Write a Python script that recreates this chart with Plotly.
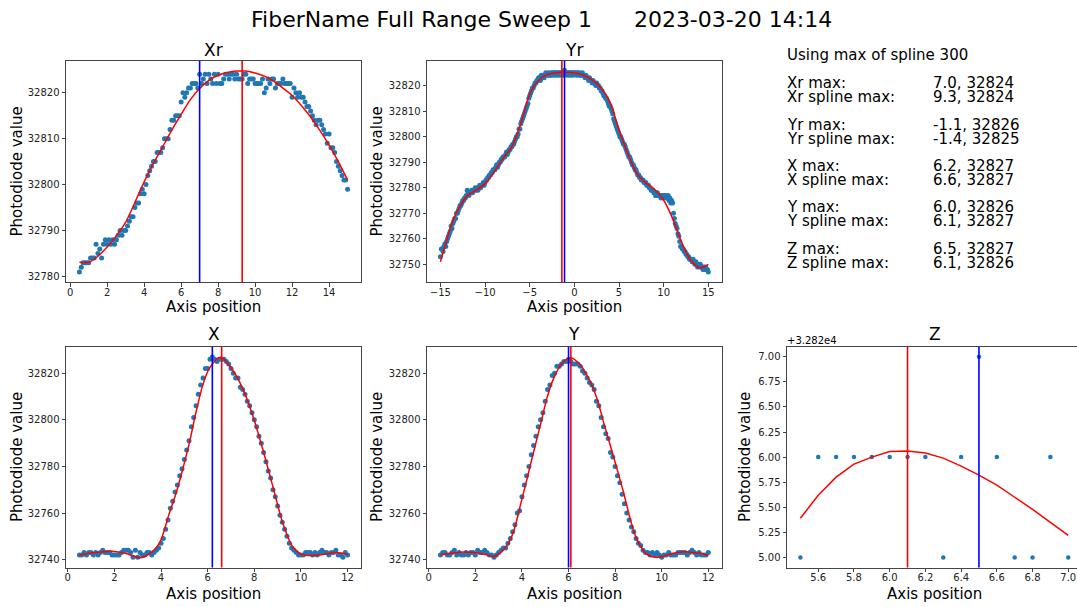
import numpy as np
import plotly.graph_objects as go

W, H = 1077, 607
FONT = "DejaVu Sans"

# ---------------- data ----------------
# Xr sweep (axis position 0.5 .. 15.0, step 0.1)
xr_pos = np.round(np.arange(0.5, 15.001, 0.1), 1)
xr_val = [32781, 32782, 32783, 32783, 32783, 32783, 32784, 32784, 32784, 32787,
          32785, 32786, 32784, 32787, 32788, 32787, 32788, 32787, 32788, 32787,
          32788, 32789, 32790, 32789, 32790, 32790, 32791, 32792, 32793, 32793,
          32795, 32796, 32796, 32798, 32799, 32798, 32800, 32802, 32803, 32804,
          32805, 32805, 32807, 32807, 32807, 32808, 32810, 32810, 32810, 32812,
          32814, 32814, 32815, 32815, 32815, 32818, 32820, 32819, 32820, 32821,
          32821, 32822, 32822, 32822, 32821, 32824, 32822, 32823, 32824, 32822,
          32824, 32823, 32822, 32824, 32822, 32824, 32822, 32822, 32823, 32824,
          32824, 32823, 32824, 32824, 32823, 32824, 32823, 32823, 32823, 32824,
          32824, 32822, 32823, 32823, 32823, 32822, 32822, 32822, 32822, 32823,
          32820, 32821, 32823, 32822, 32823, 32823, 32821, 32822, 32822, 32822,
          32823, 32822, 32822, 32822, 32822, 32819, 32821, 32820, 32819, 32820,
          32819, 32819, 32818, 32817, 32817, 32816, 32815, 32814, 32813, 32814,
          32814, 32813, 32812, 32811, 32809, 32811, 32808, 32808, 32807, 32805,
          32804, 32803, 32802, 32801, 32801, 32799]
xr_spl_x = [0.5, 1.0, 1.5, 2.0, 2.5, 3.0, 3.5, 4.0, 4.5, 5.0, 5.5, 6.0, 6.5, 7.0, 7.5,
            8.0, 8.5, 9.0, 9.5, 10.0, 10.5, 11.0, 11.5, 12.0, 12.5, 13.0, 13.5, 14.0, 14.5, 15.0]
xr_spl_y = [32783.1, 32783.1, 32784.4, 32786.4, 32788.9, 32791.8, 32796.1, 32800.6, 32804.6,
            32808.2, 32811.9, 32815.3, 32818.5, 32820.9, 32822.7, 32823.8, 32824.4, 32824.7,
            32824.7, 32824.3, 32823.6, 32822.5, 32821.0, 32819.4, 32817.2, 32814.7, 32811.8,
            32808.6, 32805.0, 32801.0]

# Yr sweep (axis position -15.0 .. 15.0, step 0.1)
yr_pos = np.round(np.arange(-15.0, 15.001, 0.1), 1)
yr_val = [32753, 32756, 32756, 32755, 32757, 32758, 32757, 32759, 32760, 32761, 32762,
          32763, 32765, 32764, 32766, 32767, 32768, 32768, 32770, 32770, 32771,
          32772, 32773, 32773, 32774, 32775, 32775, 32776, 32776, 32777, 32779,
          32778, 32777, 32778, 32778, 32779, 32778, 32779, 32779, 32780, 32779,
          32780, 32779, 32780, 32781, 32780, 32781, 32781, 32782, 32781, 32782,
          32783, 32783, 32784, 32784, 32785, 32785, 32786, 32786, 32787, 32787,
          32787, 32788, 32789, 32788, 32789, 32790, 32790, 32791, 32791, 32792,
          32792, 32792, 32793, 32794, 32793, 32794, 32795, 32795, 32796, 32796,
          32797, 32797, 32798, 32799, 32800, 32800, 32801, 32803, 32803, 32805,
          32806, 32807, 32808, 32809, 32810, 32811, 32812, 32813, 32815, 32816,
          32817, 32818, 32819, 32819, 32820, 32821, 32821, 32822, 32822, 32823,
          32823, 32822, 32824, 32823, 32824, 32823, 32824, 32825, 32824, 32824,
          32825, 32824, 32824, 32825, 32824, 32825, 32825, 32824, 32825, 32825,
          32824, 32825, 32825, 32824, 32825, 32825, 32825, 32824, 32826, 32825,
          32825, 32824, 32825, 32825, 32824, 32825, 32825, 32824, 32825, 32825,
          32825, 32824, 32825, 32825, 32824, 32825, 32824, 32824, 32825, 32824,
          32824, 32823, 32824, 32823, 32823, 32822, 32823, 32822, 32822, 32821,
          32822, 32821, 32821, 32820, 32821, 32820, 32820, 32819, 32819, 32818,
          32818, 32817, 32816, 32816, 32815, 32815, 32814, 32813, 32812, 32812,
          32811, 32810, 32809, 32807, 32806, 32805, 32804, 32803, 32802, 32801,
          32800, 32800, 32799, 32798, 32797, 32797, 32796, 32795, 32794, 32793,
          32792, 32792, 32791, 32790, 32789, 32789, 32788, 32787, 32787, 32786,
          32785, 32785, 32784, 32784, 32783, 32783, 32783, 32782, 32782, 32782,
          32781, 32781, 32781, 32780, 32780, 32779, 32779, 32779, 32778, 32778,
          32777, 32777, 32778, 32777, 32777, 32777, 32776, 32777, 32777, 32776,
          32777, 32777, 32776, 32776, 32777, 32775, 32776, 32774, 32775, 32774,
          32770, 32768, 32766, 32765, 32764, 32762, 32761, 32759, 32757, 32757,
          32756, 32756, 32755, 32755, 32754, 32754, 32753, 32753, 32752, 32752,
          32752, 32751, 32752, 32751, 32750, 32751, 32750, 32749, 32750, 32749,
          32750, 32749, 32749, 32748, 32749, 32748, 32749, 32748, 32748, 32747]
yr_spl_x = [-15.0, -14.5, -14.0, -13.5, -13.0, -12.5, -12.0, -11.5, -11.0, -10.0, -9.0, -8.0,
            -7.0, -6.0, -5.0, -4.0, -3.0, -2.0, -1.4, -1.0, 0.0, 1.0, 2.0, 3.0, 4.0, 5.0,
            6.0, 7.0, 8.0, 9.0, 10.0, 11.0, 12.0, 13.0, 14.0, 14.5, 15.0]
yr_spl_y = [32751.0, 32757.0, 32763.0, 32768.0, 32771.5, 32774.5, 32776.8, 32778.0, 32779.0,
            32781.6, 32786.0, 32791.4, 32796.0, 32805.0, 32816.7, 32822.0, 32824.3, 32825.0,
            32825.3, 32825.2, 32825.0, 32824.0, 32822.2, 32819.0, 32813.5, 32802.7, 32793.3,
            32785.5, 32781.9, 32779.3, 32775.1, 32768.0, 32758.8, 32751.7, 32748.7, 32749.0,
            32750.0]

# X sweep (0.5 .. 12.0, step 0.1)
x_pos = np.round(np.arange(0.5, 12.001, 0.1), 1)
x_val = [32742, 32742, 32743, 32742, 32743, 32743, 32742, 32743, 32742, 32743,
         32744, 32743, 32743, 32743, 32742, 32742, 32742, 32742, 32743, 32744,
         32744, 32744, 32743, 32741, 32744, 32741, 32743, 32742, 32742, 32743,
         32743, 32742, 32743, 32744, 32745, 32747, 32749, 32753, 32757, 32762,
         32765, 32769, 32772, 32776, 32779, 32783, 32787, 32791, 32797, 32801,
         32806, 32811, 32815, 32818, 32822, 32822, 32826, 32827, 32826, 32825,
         32826, 32826, 32826, 32825, 32824, 32822, 32820, 32818, 32818, 32814,
         32813, 32811, 32808, 32806, 32803, 32800, 32797, 32793, 32790, 32786,
         32782, 32778, 32775, 32770, 32767, 32763, 32759, 32756, 32753, 32750,
         32747, 32745, 32744, 32743, 32742, 32742, 32742, 32743, 32743, 32743,
         32742, 32743, 32742, 32743, 32744, 32743, 32743, 32742, 32743, 32743,
         32744, 32742, 32742, 32741, 32743, 32742]
x_spl_x = [0.5, 1.0, 1.5, 2.0, 2.5, 3.1, 3.5, 3.93, 4.36, 4.65, 4.93, 5.22, 5.5, 5.79, 6.07,
           6.55, 7.07, 7.5, 7.93, 8.36, 8.79, 9.22, 9.64, 10.07, 10.5, 11.0, 11.5, 12.0]
x_spl_y = [32742.0, 32742.8, 32743.4, 32743.5, 32742.6, 32740.8, 32742.5, 32747.0, 32760.0,
           32768.7, 32778.8, 32790.3, 32803.3, 32814.9, 32822.1, 32826.9, 32821.4, 32813.5,
           32801.9, 32787.5, 32771.6, 32755.7, 32745.6, 32742.0, 32741.8, 32742.3, 32743.0,
           32742.2]

# Y sweep (0.5 .. 12.0, step 0.1)
y_pos = np.round(np.arange(0.5, 12.001, 0.1), 1)
y_val = [32742, 32743, 32743, 32742, 32742, 32743, 32744, 32742, 32743, 32742,
         32742, 32743, 32742, 32743, 32743, 32742, 32744, 32743, 32743, 32744,
         32743, 32742, 32742, 32741, 32742, 32743, 32744, 32745, 32745, 32747,
         32749, 32752, 32755, 32760, 32761, 32767, 32772, 32776, 32780, 32785,
         32789, 32793, 32797, 32800, 32803, 32808, 32813, 32815, 32819, 32820,
         32823, 32823, 32824, 32825, 32825, 32826, 32825, 32824, 32824, 32824,
         32823, 32821, 32820, 32818, 32816, 32815, 32813, 32808, 32806, 32801,
         32797, 32794, 32792, 32786, 32784, 32780, 32776, 32773, 32768, 32764,
         32760, 32757, 32754, 32752, 32749, 32747, 32746, 32744, 32743, 32743,
         32742, 32743, 32742, 32743, 32742, 32741, 32742, 32742, 32743, 32742,
         32742, 32742, 32743, 32743, 32743, 32743, 32742, 32743, 32744, 32743,
         32742, 32743, 32742, 32742, 32742, 32743]
y_spl_x = [0.5, 1.0, 1.5, 2.0, 2.5, 2.8, 3.1, 3.36, 3.64, 3.93, 4.22, 4.5, 4.79, 5.07, 5.36,
           5.72, 6.1, 6.5, 6.93, 7.22, 7.5, 7.79, 8.08, 8.36, 8.65, 8.93, 9.36, 9.79, 10.36,
           10.79, 11.2, 11.6, 12.0]
y_spl_y = [32742.0, 32742.8, 32743.3, 32743.0, 32742.0, 32741.3, 32743.2, 32746.0, 32752.0,
           32763.2, 32774.7, 32786.2, 32797.7, 32809.2, 32817.8, 32824.3, 32826.7, 32823.6,
           32816.4, 32809.2, 32799.1, 32789.1, 32779.0, 32768.9, 32757.4, 32748.8, 32742.3,
           32740.9, 32742.3, 32743.3, 32743.2, 32742.8, 32741.8]

# Z sweep (5.5 .. 7.0, step 0.1)
z_pos = [5.5, 5.6, 5.7, 5.8, 5.9, 6.0, 6.1, 6.2, 6.3, 6.4, 6.5, 6.6, 6.7, 6.8, 6.9, 7.0]
z_val = [32825, 32826, 32826, 32826, 32826, 32826, 32826, 32826, 32825, 32826, 32827,
         32826, 32825, 32825, 32826, 32825]
z_spl_y = [32825.39, 32825.62, 32825.80, 32825.93, 32826.00, 32826.055, 32826.06, 32826.04,
           32825.99, 32825.91, 32825.82, 32825.72, 32825.60, 32825.48, 32825.35, 32825.22]
z_offset = 32820

# summary of maxima
axis_names = ["Xr", "Yr", "X", "Y", "Z"]
max_pos = [7.0, -1.1, 6.2, 6.0, 6.5]
max_val = [32824, 32826, 32827, 32826, 32827]
spl_max_pos = [9.3, -1.4, 6.6, 6.1, 6.1]
spl_max_val = [32824, 32825, 32827, 32827, 32826]

# tick labels
xr_xticks = [0, 2, 4, 6, 8, 10, 12, 14]
xr_yticks = [32780, 32790, 32800, 32810, 32820]
yr_xticks = [-15, -10, -5, 0, 5, 10, 15]
yr_xticktext = ["\u221215", "\u221210", "\u22125", "0", "5", "10", "15"]
yr_yticks = [32750, 32760, 32770, 32780, 32790, 32800, 32810, 32820]
xy_xticks = [0, 2, 4, 6, 8, 10, 12]
xy_yticks = [32740, 32760, 32780, 32800, 32820]
z_xticks = [5.6, 5.8, 6.0, 6.2, 6.4, 6.6, 6.8, 7.0]
z_xticktext = ["5.6", "5.8", "6.0", "6.2", "6.4", "6.6", "6.8", "7.0"]
z_yticks = [5.0, 5.25, 5.5, 5.75, 6.0, 6.25, 6.5, 6.75, 7.0]
z_yticktext = ["5.00", "5.25", "5.50", "5.75", "6.00", "6.25", "6.50", "6.75", "7.00"]

# ---------------- figure ----------------
def px(x):
    return x / W


def py(y):
    return 1 - y / H


C_PT = "#1f77b4"
C_RED = "#ff0000"
C_BLUE = "#0000ff"

fig = go.Figure()

panels = [
    ("x", "y", xr_pos, xr_val, xr_spl_x, xr_spl_y, "spline"),
    ("x2", "y2", yr_pos, yr_val, yr_spl_x, yr_spl_y, "spline"),
    ("x3", "y3", x_pos, x_val, x_spl_x, x_spl_y, "spline"),
    ("x4", "y4", y_pos, y_val, y_spl_x, y_spl_y, "spline"),
    ("x5", "y5", z_pos, [v - z_offset for v in z_val], z_pos,
     [v - z_offset for v in z_spl_y], "linear"),
]
for xa, ya, px_, pv, sx, sy, shape in panels:
    fig.add_trace(go.Scatter(x=list(px_), y=list(pv), mode="markers", xaxis=xa, yaxis=ya,
                             marker=dict(color=C_PT, size=5 if xa != "x5" else 4.5,
                                         line=dict(width=0)),
                             showlegend=False, hoverinfo="skip"))
    fig.add_trace(go.Scatter(x=list(sx), y=list(sy), mode="lines", xaxis=xa, yaxis=ya,
                             line=dict(color=C_RED, width=1.5, shape=shape, smoothing=0.8),
                             showlegend=False, hoverinfo="skip"))

shapes = []
for i, (xa, ya) in enumerate([("x", "y"), ("x2", "y2"), ("x3", "y3"), ("x4", "y4"), ("x5", "y5")]):
    for pos, col in ((max_pos[i], C_BLUE), (spl_max_pos[i], C_RED)):
        shapes.append(dict(type="line", xref=xa, yref=ya + " domain", x0=pos, x1=pos,
                           y0=0, y1=1, line=dict(color=col, width=1.6), layer="above"))

tickfont = dict(family=FONT, size=10, color="#222")


def axis(domain, rng, tickvals, ticktext=None, mirror=True, anchor=None, is_x=True):
    if ticktext is None:
        ticktext = [str(v) for v in tickvals]
    d = dict(domain=domain, range=rng, tickvals=tickvals, ticktext=ticktext, showline=True,
             linecolor="#444", linewidth=1, mirror=mirror, ticks="outside", ticklen=3.5,
             tickwidth=1, tickcolor="#444", showgrid=False, zeroline=False,
             tickfont=tickfont, anchor=anchor)
    d["ticklabelstandoff"] = -3 if is_x else 0
    return d


c1 = [px(66), px(361)]
c2 = [px(427), px(721.7)]
c3 = [px(787), 1.0]
r1 = [py(282), py(61)]
r2 = [py(567.5), py(346.7)]

layout = dict(
    width=W, height=H, margin=dict(l=0, r=0, t=0, b=0), autosize=False,
    paper_bgcolor="white", plot_bgcolor="white", showlegend=False,
    font=dict(family=FONT, color="#000"),
    xaxis=axis(c1, [-0.225, 15.725], xr_xticks, anchor="y"),
    yaxis=axis(r1, [32778.8, 32826.9], xr_yticks, anchor="x", is_x=False),
    xaxis2=axis(c2, [-16.5, 16.5], yr_xticks, yr_xticktext, anchor="y2"),
    yaxis2=axis(r1, [32743.1, 32829.6], yr_yticks, anchor="x2", is_x=False),
    xaxis3=axis(c1, [-0.075, 12.575], xy_xticks, anchor="y3"),
    yaxis3=axis(r2, [32736.6, 32831.4], xy_yticks, anchor="x3", is_x=False),
    xaxis4=axis(c2, [-0.075, 12.575], xy_xticks, anchor="y4"),
    yaxis4=axis(r2, [32736.6, 32831.4], xy_yticks, anchor="x4", is_x=False),
    xaxis5=axis(c3, [5.425, 7.049], z_xticks, z_xticktext, anchor="y5"),
    yaxis5=axis(r2, [4.9, 7.1], z_yticks, z_yticktext, mirror=False, anchor="x5", is_x=False),
    shapes=shapes,
)

ann = []


def text(x, y, s, size, xanchor="center", yanchor="middle", angle=0, align="center"):
    ann.append(dict(x=px(x), y=py(y), xref="paper", yref="paper", text=s, showarrow=False,
                    xanchor=xanchor, yanchor=yanchor, textangle=angle, borderpad=0,
                    align=align, font=dict(family=FONT, size=size, color="#000")))


NB = "\u00a0"
text(541, 20, "FiberName Full Range Sweep 1" + NB * 6 + "2023-03-20 14:14", 22)

col_cx = [213.5, 574.3, 213.5, 574.3, 934.5]
row_ty = [50, 50, 334, 334, 334]
for i, name in enumerate(axis_names):
    text(col_cx[i], row_ty[i], name, 17)

for cx, y in ((213.5, 307), (574.3, 307), (213.5, 594), (574.3, 594), (934.5, 594)):
    text(cx, y, "Axis position", 15)
for x, y in ((17, 171.5), (377, 171.5), (17, 457), (377, 457), (745, 457)):
    text(x, y, "Photodiode value", 15, angle=-90)

# Offset label of Z axis
text(786, 340.5, "+3.282e4", 10, xanchor="left")

# summary panel: each pair of lines is one text block with tight (14 px) line spacing
text(786, 55, "Using max of spline 300", 15, xanchor="left", align="left")
LINE_PX = 14.0
base_size = LINE_PX / 1.3


def pair(a, b):
    return (f'<span style="font-size:15px">{a}</span><br>'
            f'<span style="font-size:15px">{b}</span>')


pair_cy = [90, 131.75, 173, 214, 256]
for i, name in enumerate(axis_names):
    cy = pair_cy[i]
    text(786, cy, pair(f"{name} max:", f"{name} spline max:"), base_size,
         xanchor="left", align="left")
    text(932, cy, pair(f"{max_pos[i]:.1f}, {max_val[i]}",
                       f"{spl_max_pos[i]:.1f}, {spl_max_val[i]}"), base_size,
         xanchor="left", align="left")

layout["annotations"] = ann
fig.update_layout(**layout)
fig.write_html("out.html")
